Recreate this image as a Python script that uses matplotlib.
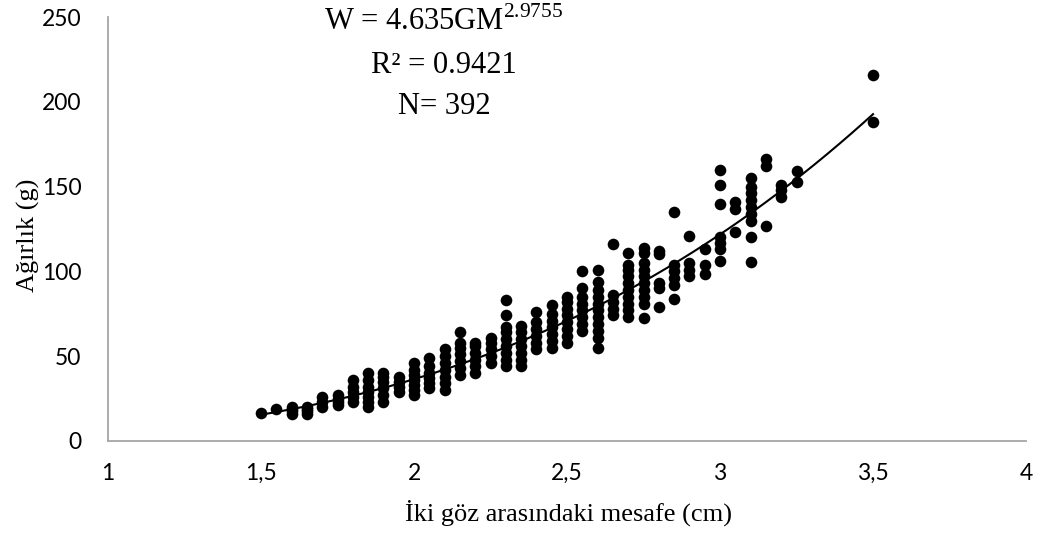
import matplotlib
matplotlib.use("Agg")
import matplotlib.pyplot as plt
import numpy as np
from matplotlib.ticker import FuncFormatter

# ---- data ----
col_x = [1.50, 1.55, 1.60, 1.65, 1.70, 1.75, 1.80, 1.85, 1.90, 1.95,
         2.00, 2.05, 2.10, 2.15, 2.20, 2.25, 2.30, 2.35, 2.40, 2.45,
         2.50, 2.55, 2.60, 2.65, 2.70, 2.75, 2.80, 2.85, 2.90, 2.95,
         3.00, 3.05, 3.10, 3.15, 3.20, 3.25, 3.50]
col_w = [
    [16.5],
    [19],
    [16, 17.5, 19, 20],
    [16, 17.5, 19, 20],
    [20, 23, 26],
    [21, 23, 25, 27],
    [23, 26, 29, 32, 36],
    [20, 23, 26, 29, 32, 36, 40],
    [23, 27, 31, 35, 38, 40],
    [29, 32, 35, 38],
    [27, 30, 33, 36, 39, 42, 46],
    [31, 34, 37, 40, 44, 49],
    [30, 34, 38, 42, 46, 50, 54],
    [39, 43, 47, 51, 55, 58, 64],
    [40, 44, 48, 52, 56, 58],
    [46, 50, 54, 58, 61],
    [44, 48, 52, 56, 60, 64, 67, 74, 83],
    [44, 48, 52, 56, 60, 64, 68],
    [54, 58, 62, 66, 70, 76],
    [55, 59, 63, 67, 71, 75, 80],
    [58, 62, 66, 70, 74, 78, 82, 85],
    [65, 69, 73, 77, 81, 85, 90, 100],
    [55, 61, 65, 69, 73, 77, 81, 85, 89, 94, 101],
    [74, 78, 82, 86, 116],
    [73, 77, 81, 85, 89, 93, 97, 101, 104, 111],
    [72.5, 81, 85, 89, 93, 97, 101, 105, 111, 114],
    [79, 90, 93, 110, 112],
    [84, 92, 96, 100, 104, 135],
    [97, 101, 105, 121],
    [98.5, 104, 113],
    [106, 113, 117, 120, 140, 151, 160],
    [123, 137, 141],
    [105.5, 120, 130, 134, 138, 142, 146, 150, 155],
    [127, 162, 166],
    [144, 148, 151],
    [153, 159],
    [188, 216],
]
fit_a = 4.635
fit_b = 2.9755
x_ticks = [1, 1.5, 2, 2.5, 3, 3.5, 4]
y_ticks = [0, 50, 100, 150, 200, 250]

xs = [x for x, ws in zip(col_x, col_w) for _ in ws]
ys = [w for ws in col_w for w in ws]

plt.rcParams['mathtext.fontset'] = 'custom'
plt.rcParams['mathtext.rm'] = 'Liberation Serif'

fig = plt.figure(figsize=(10.53, 5.37), dpi=100)
ax = fig.add_axes([0.1026, 0.1788, 0.8718, 0.7895])

ax.scatter(xs, ys, s=70, color='black', zorder=3, linewidths=0)
xf = np.linspace(min(col_x), max(col_x), 200)
ax.plot(xf, fit_a * xf ** fit_b, color='black', lw=1.5, zorder=4)

ax.set_xlim(1, 4)
ax.set_ylim(0, 250)
ax.set_xticks(x_ticks)
ax.set_yticks(y_ticks)
ax.xaxis.set_major_formatter(FuncFormatter(lambda v, p: ('%g' % v).replace('.', ',')))
for lab in ax.get_xticklabels() + ax.get_yticklabels():
    lab.set_family('Lato')
    lab.set_fontsize(16.5)
ax.tick_params(axis='x', length=0, pad=16)
ax.tick_params(axis='y', length=0, pad=19)
for s in ['top', 'right']:
    ax.spines[s].set_visible(False)
for s in ['left', 'bottom']:
    ax.spines[s].set_color('#A6A6A6')
    ax.spines[s].set_linewidth(1.3)

ax.set_xlabel('İki göz arasındaki mesafe (cm)', family='Liberation Serif', fontsize=19)
ax.set_ylabel('Ağırlık (g)', family='Liberation Serif', fontsize=19)
ax.xaxis.label.set_va('center')
ax.yaxis.label.set_va('center')
ax.xaxis.set_label_coords((568 - 108) / 918, (441 - 513) / 424)
ax.yaxis.set_label_coords((28 - 108) / 918, (441 - 235) / 424)

tfont = dict(family='Liberation Serif', fontsize=22, ha='center', va='baseline')
fig.text(444 / 1053, 1 - 30 / 537, r'W = 4.635GM$^{\mathrm{2.9755}}$', **tfont)
fig.text(444 / 1053, 1 - 73 / 537, 'R² = 0.9421', **tfont)
fig.text(444 / 1053, 1 - 114 / 537, 'N= 392', **tfont)

fig.savefig('out.png', dpi=100)
